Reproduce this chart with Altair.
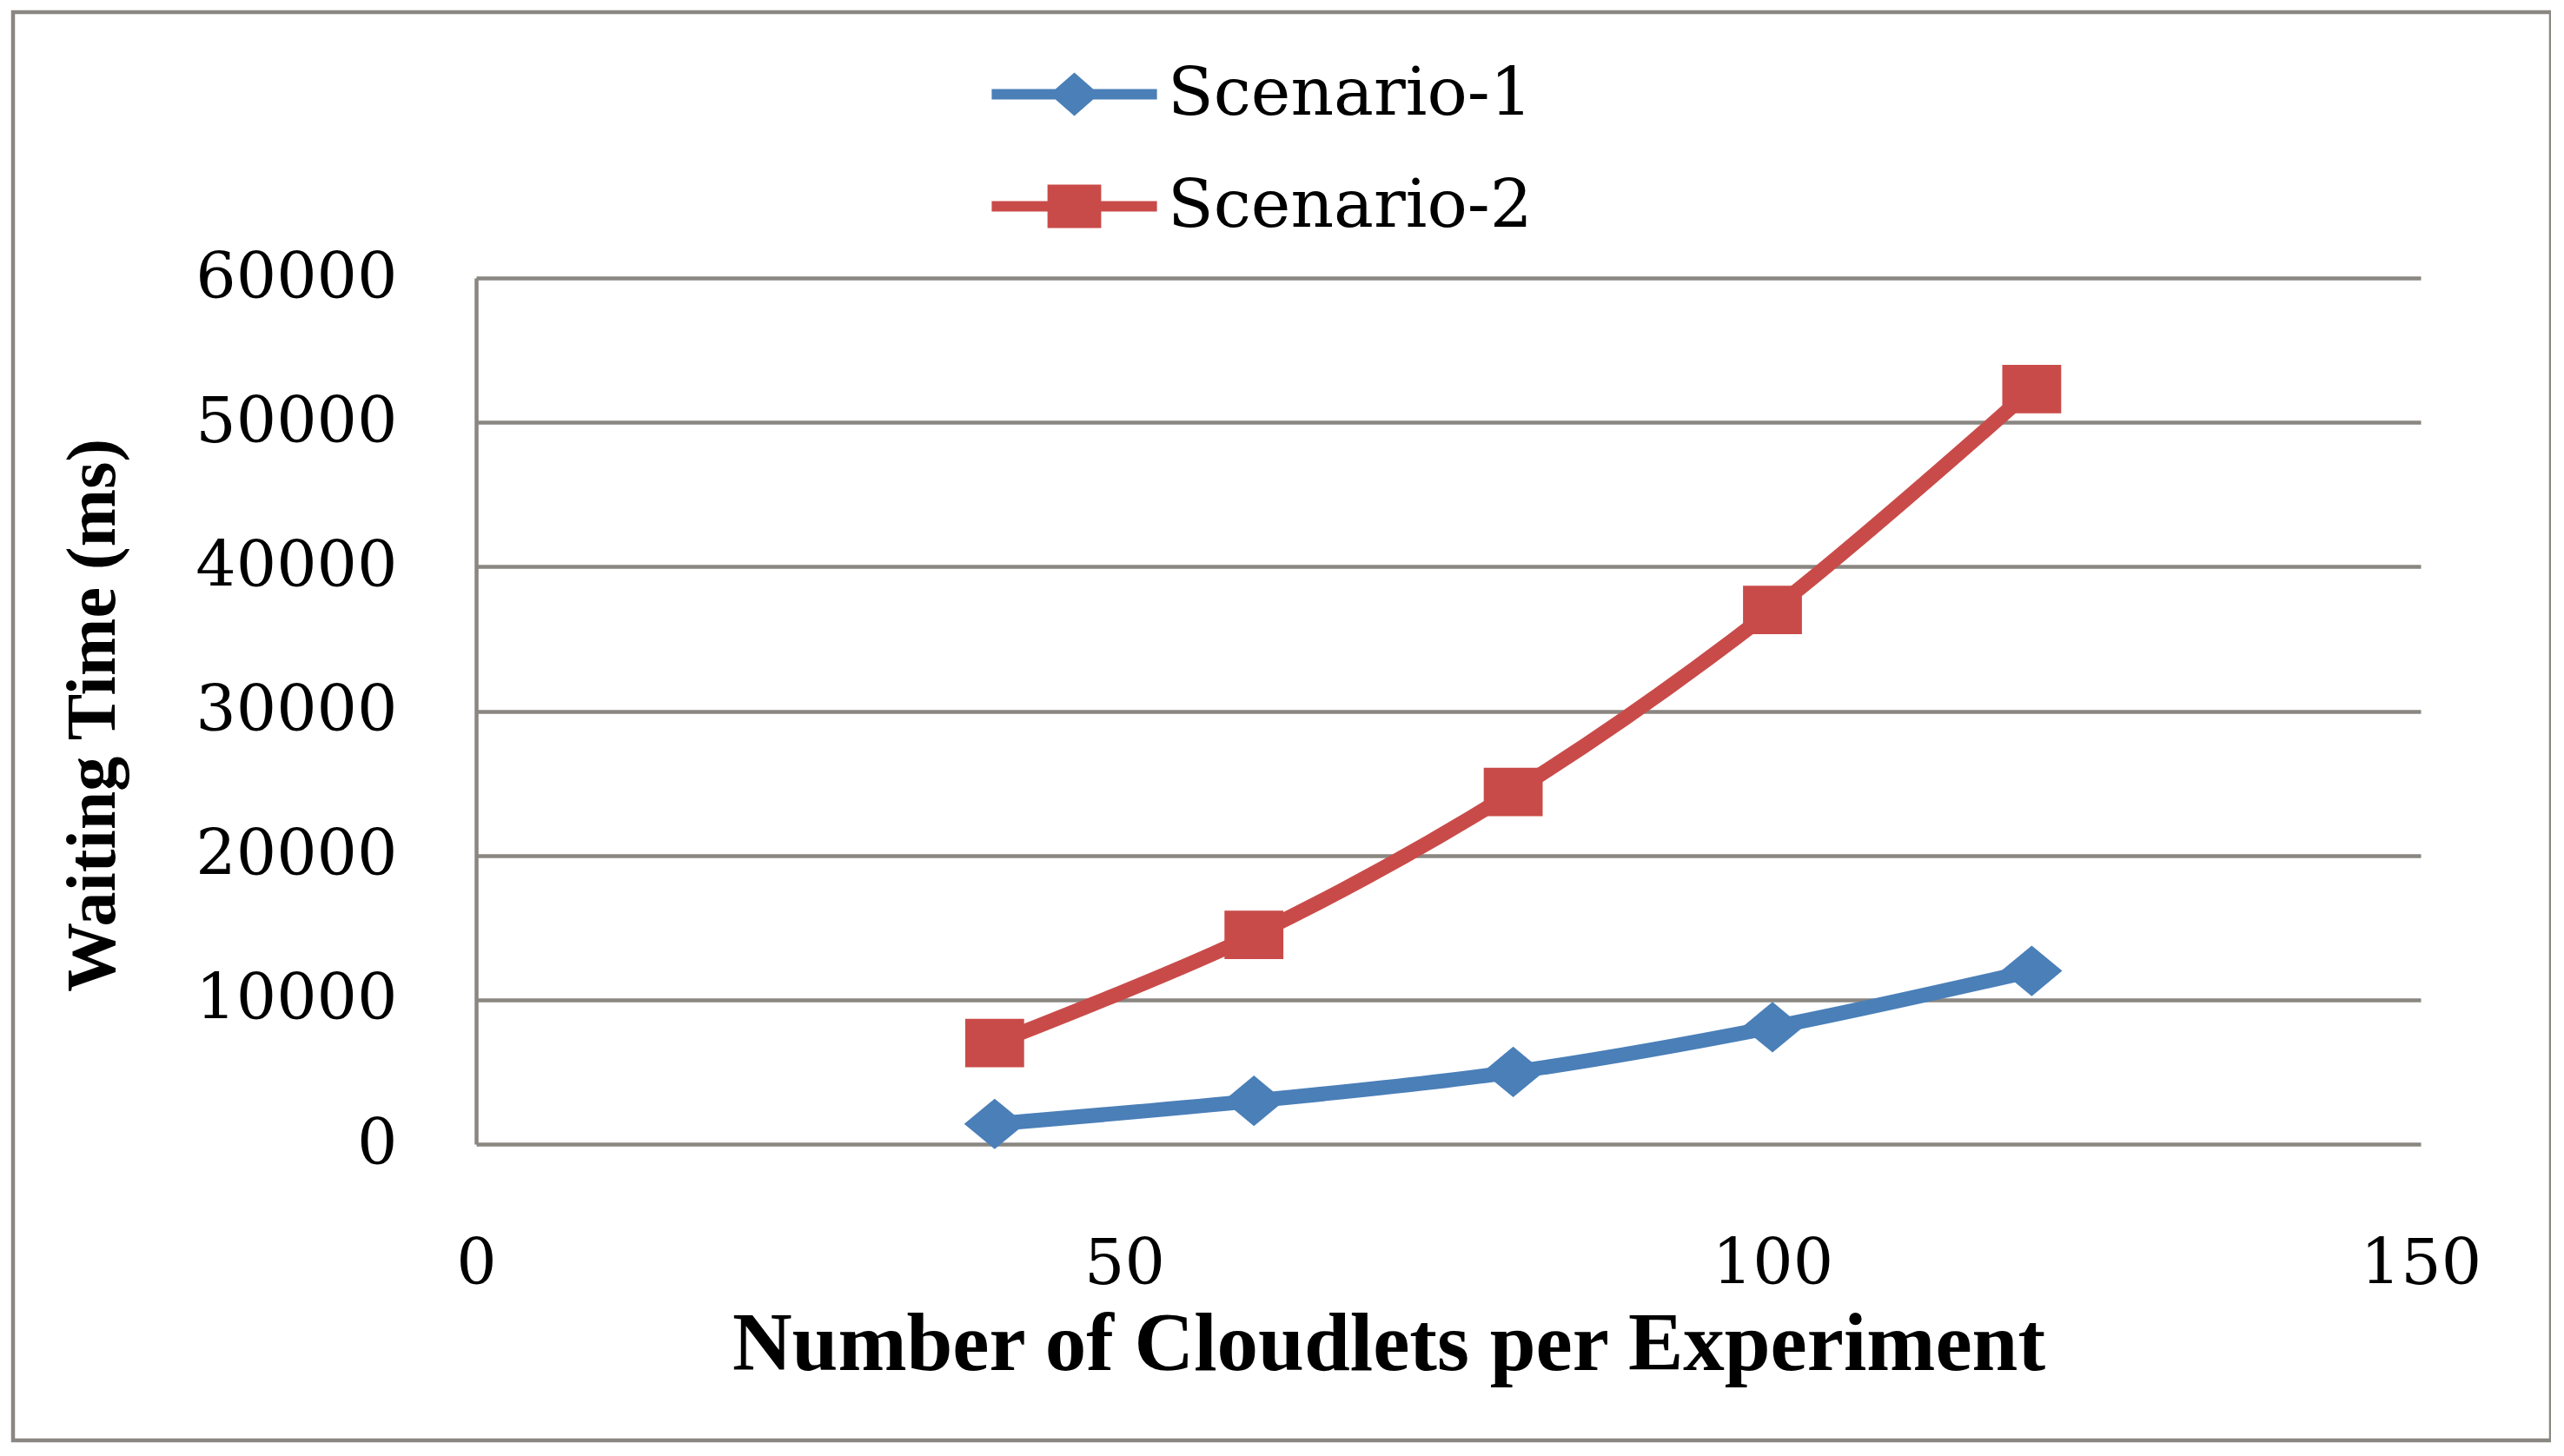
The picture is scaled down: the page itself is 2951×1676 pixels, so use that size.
import altair as alt
import pandas as pd

# ---- data ----
cloudlets = [40, 60, 80, 100, 120]
scenario1 = [1400, 3000, 5000, 8100, 12000]
scenario2 = [7000, 14500, 24400, 37000, 52300]
series_names = ["Scenario-1", "Scenario-2"]
series_colors = ["#4a7fb8", "#c94b49"]
x_ticks = [0, 50, 100, 150]
y_ticks = [0, 10000, 20000, 30000, 40000, 50000, 60000]

rows = []
for xv, v in zip(cloudlets, scenario1):
    rows.append({"cloudlets": xv, "waiting": v, "series": series_names[0]})
for xv, v in zip(cloudlets, scenario2):
    rows.append({"cloudlets": xv, "waiting": v, "series": series_names[1]})
df = pd.DataFrame(rows)

GRID = "#8a8681"
W, H = 2238, 997

x_enc = alt.X(
    "cloudlets:Q",
    scale=alt.Scale(domain=[0, 150], nice=False, zero=True),
    axis=alt.Axis(
        values=x_ticks, grid=False, domain=False, ticks=False, tickSize=0,
        labelPadding=138, labelBaseline="middle", labelFlush=False, labelLimit=0,
        labelFont="DejaVu Serif", labelFontSize=73, labelColor="black",
        title="Number of Cloudlets per Experiment",
        titleFont="Liberation Serif", titleFontWeight="bold", titleFontSize=95,
        titleColor="black", titleX=1050, titleY=230, titleBaseline="middle",
        titleAlign="center", titleLimit=0,
    ),
)
y_enc = alt.Y(
    "waiting:Q",
    scale=alt.Scale(domain=[0, 60000], nice=False),
    axis=alt.Axis(
        values=y_ticks, format="d", grid=True, gridColor=GRID, gridWidth=4.5,
        domain=True, domainColor=GRID, domainWidth=4.5, ticks=False, tickSize=0,
        labelPadding=91, labelFont="DejaVu Serif", labelFontSize=73,
        labelColor="black", labelFlush=False, labelLimit=0,
        title="Waiting Time (ms)", titleFont="Liberation Serif",
        titleFontWeight="bold", titleFontSize=80, titleColor="black",
        titleAngle=270, titleX=-441, titleY=503, titleBaseline="middle",
        titleAlign="center", titleLimit=0,
    ),
)

base = alt.Chart(df)
is_s1 = alt.datum.series == series_names[0]

lines = base.mark_line(strokeWidth=17, interpolate="catmull-rom").encode(
    x=x_enc, y=y_enc,
    detail="series:N",
    color=alt.condition(is_s1, alt.value(series_colors[0]), alt.value(series_colors[1])),
)

# marker outlines (unit square -1..1 scaled by sqrt(size)/2)
marker_paths = [
    "M0,-0.97L1.17,0L0,0.97L-1.17,0Z",
    "M-1.13,-0.93H1.13V0.93H-1.13Z",
]
points = base.mark_point(filled=True, opacity=1, strokeWidth=0, size=3600).encode(
    x="cloudlets:Q", y="waiting:Q",
    color=alt.condition(is_s1, alt.value(series_colors[0]), alt.value(series_colors[1])),
    shape=alt.condition(is_s1, alt.value(marker_paths[0]), alt.value(marker_paths[1])),
)

legend_paths = [
    "M-3.17,-0.2H3.17V0.2H-3.17Z M0,-0.83L0.95,0L0,0.83L-0.95,0Z",
    "M-3.17,-0.2H3.17V0.2H-3.17Z M-1.03,-0.83H1.03V0.83H-1.03Z",
]
legend = alt.Legend(
    orient="none", legendX=650, legendY=-250, title=None, padding=0,
    labelFont="DejaVu Serif", labelFontSize=77, labelColor="black", labelLimit=0,
    symbolSize=3600, symbolStrokeWidth=0, symbolOpacity=1,
    labelOffset=69, rowPadding=51,
)
legend_layer = base.transform_filter("datum.cloudlets < 0").mark_point(filled=True).encode(
    x="cloudlets:Q", y="waiting:Q",
    color=alt.Color("series:N", scale=alt.Scale(domain=series_names, range=series_colors), legend=legend),
    shape=alt.Shape("series:N", scale=alt.Scale(domain=series_names, range=legend_paths), legend=legend),
)

border = alt.Chart(pd.DataFrame({"a": [0]})).mark_rect(
    fillOpacity=0, stroke=GRID, strokeWidth=4.5
).encode(
    x=alt.value(-533), x2=alt.value(2388), y=alt.value(-306), y2=alt.value(1338)
)

chart = alt.layer(border, lines, points, legend_layer).properties(
    width=W, height=H,
    autosize=alt.AutoSizeParams(type="none"),
    padding={"left": 540, "top": 312, "right": 150, "bottom": 345},
    background="white",
).configure_view(stroke=None)

chart.save("out.html", embed_options={"renderer": "svg", "actions": False})
